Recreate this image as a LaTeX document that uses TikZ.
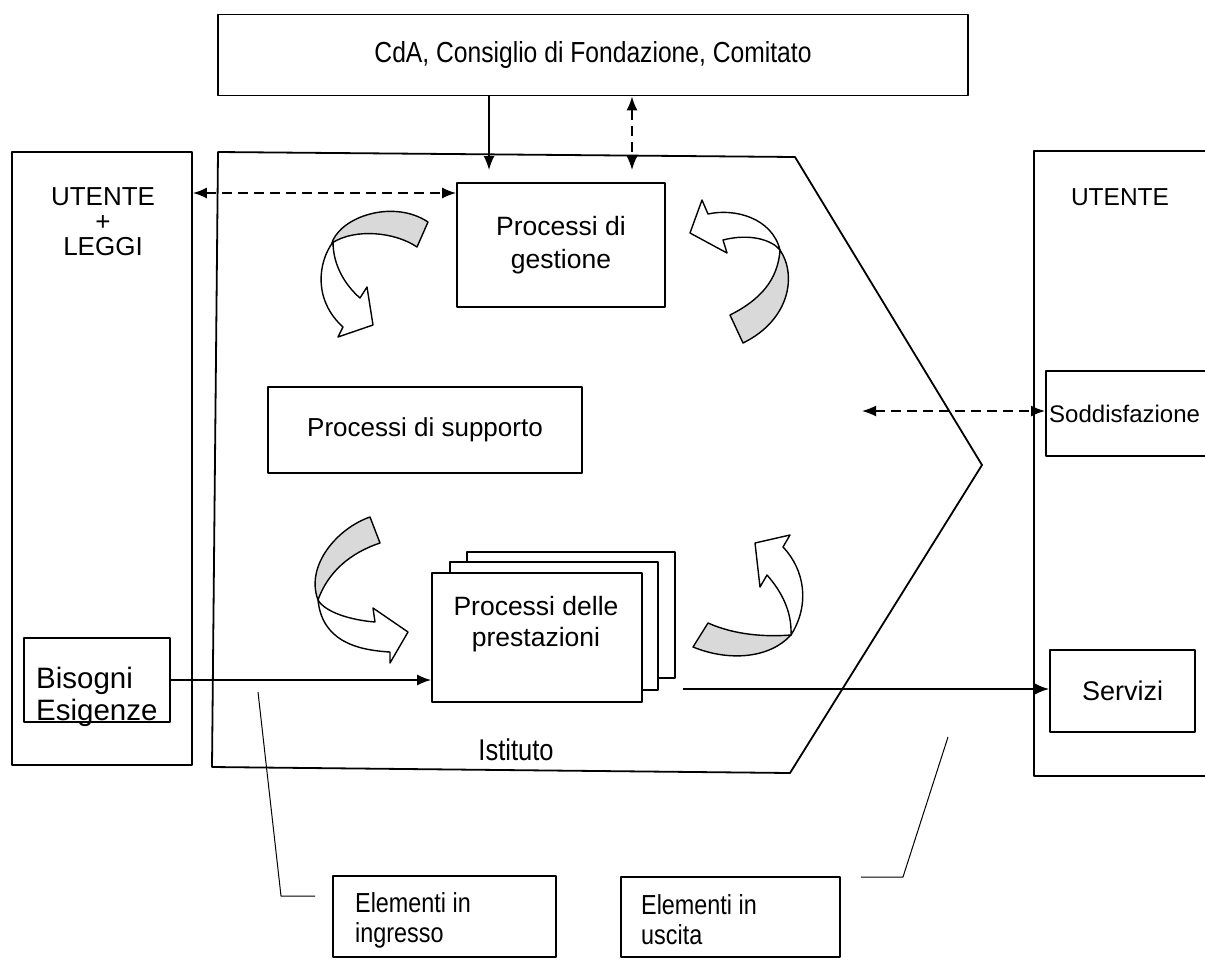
\documentclass[tikz,border=0pt]{standalone}
\usepackage{fontspec}
\setmainfont{Liberation Sans}
\newfontfamily\narrowsans{Liberation Sans}[FakeStretch=0.85]
\usetikzlibrary{arrows.meta}
\begin{document}
\begin{tikzpicture}[x=1pt,y=-1pt, line join=round,
  box/.style={draw, line width=1.8pt, inner sep=0pt},
  txt/.style={font=\fontsize{24}{31}\selectfont, inner sep=0pt, align=center},
  fs/.style={font=\fontsize{#1}{32}\selectfont},
  conn/.style={line width=1.6pt, -{Latex[length=14pt,width=11pt]}},
  dconn/.style={line width=1.6pt, {Latex[length=14pt,width=11pt]}-{Latex[length=14pt,width=11pt]}, dash pattern=on 10pt off 6pt},
  leader/.style={line width=1pt},
  backface/.style={draw, line width=1.4pt, fill=gray!30},
  frontface/.style={draw, line width=1.4pt, fill=white}]
\useasboundingbox (0,0) rectangle (1205,959);
\fill[white] (0,0) rectangle (1205,959);

% top board
\node[box, minimum width=750pt, minimum height=81pt, txt, font=\narrowsans\fontsize{29}{32}\selectfont] (cda) at (593,55) {CdA, Consiglio di Fondazione, Comitato};

% left user box
\node[box, minimum width=180pt, minimum height=613pt] (lb) at (102,458.5) {};
\node[txt, font=\fontsize{26}{25}\selectfont] (lbt) at (103,222) {UTENTE\\+\\LEGGI};
\node[box, minimum width=146pt, minimum height=84pt] (bis) at (97,680) {};
\node[txt, align=left, anchor=west, fs=29.5] (bist) at (36,697) {Bisogni\\Esigenze};

% institute pentagon
\coordinate (p1) at (218,152);
\coordinate (p2) at (795,157);
\coordinate (p3) at (982,465);
\coordinate (p4) at (790,773);
\coordinate (p5) at (212,767);
\draw[line width=1.8pt] (p1) -- (p2) -- (p3) -- (p4) -- (p5) -- cycle;
\node[txt, font=\narrowsans\fontsize{30}{32}\selectfont] (ist) at (516,750) {Istituto};

% processes
\node[box, minimum width=208pt, minimum height=124pt, txt, font=\fontsize{26.5}{33}\selectfont] (gest) at (561,245) {Processi di\\gestione};
\node[box, minimum width=314pt, minimum height=86pt, txt, fs=26] (supp) at (425,430) {Processi di supporto};
\node[box, fill=white, minimum width=208pt, minimum height=126pt] (pb) at (571,615) {};
\node[box, fill=white, minimum width=208pt, minimum height=128pt] (pm) at (554,626) {};
\node[box, fill=white, minimum width=210pt, minimum height=129pt] (pf) at (537,637.5) {};
\node[txt, font=\fontsize{26.5}{31}\selectfont] (pft) at (536,624) {Processi delle\\prestazioni};

% right user box
\node[box, minimum width=185pt, minimum height=625pt, anchor=north west] (rb) at (1033,150) {};
\node[txt, fs=24.5] (rbt) at (1120,197) {UTENTE};
\node[box, minimum width=175pt, minimum height=85pt, anchor=north west] (sod) at (1045,370) {};
\node[txt, anchor=west] (sodt) at (1049,414) {Soddisfazione};
\node[box, minimum width=145pt, minimum height=82pt, txt, fs=27] (serv) at (1122.5,691) {Servizi};

% bottom callouts
\node[box, minimum width=223pt, minimum height=81pt] (ing) at (444.5,916.5) {};
\node[txt, align=left, anchor=west, font=\narrowsans\fontsize{27.5}{30}\selectfont] (ingt) at (355,920) {Elementi in\\ingresso};
\node[box, minimum width=219pt, minimum height=80pt] (usc) at (730.5,917) {};
\node[txt, align=left, anchor=west, font=\narrowsans\fontsize{27.5}{30}\selectfont] (usct) at (641,920) {Elementi in\\uscita};

% connectors
\coordinate (d1) at (489,170);
\draw[conn] (cda.south -| d1) -- (d1);
\coordinate (d2) at (632,170);
\draw[dconn] (cda.south -| d2) -- (d2);
\coordinate (y3) at (300,193);
\draw[dconn] (lb.east |- y3) -- (gest.west |- y3);
\coordinate (d4) at (862,411);
\draw[dconn] (d4) -- (d4 -| sod.west);
\draw[conn] (bis.east) -- (bis.east -| pf.west);
\coordinate (o1) at (683,689);
\draw[conn] (o1) -- (o1 -| serv.west);

% leaders
\coordinate (l1) at (258,692);
\coordinate (l1b) at (281,896);
\draw[leader] (l1) -- (l1b) -- ([xshift=-17pt]ing.west |- l1b);
\coordinate (l2) at (948,737);
\coordinate (l2b) at (903,877);
\draw[leader] (l2) -- (l2b) -- ([xshift=20pt]usc.east |- l2b);

% curved arrows: top-left
\path[backface] (333,240) .. controls (345,215) and (395,200) .. (428,222) -- (417,247) .. controls (395,232) and (355,228) .. (332,243) -- cycle;
\path[frontface] (333,242) .. controls (318,262) and (313,300) .. (343,327) -- (338,337) -- (373,325) -- (367,287) -- (360,298) .. controls (345,285) and (333,265) .. (333,242) -- cycle;
% top-right
\path[backface] (780,250) .. controls (797,275) and (790,320) .. (743,343) -- (730,315) .. controls (760,300) and (778,280) .. (780,250) -- cycle;
\path[frontface] (780,250) .. controls (772,218) and (735,208) .. (708,214) -- (702,200) -- (690,233) -- (727,253) -- (723,240) .. controls (750,233) and (772,240) .. (780,250) -- cycle;
% bottom-left
\path[backface] (370,517) .. controls (338,528) and (305,565) .. (318,600) .. controls (328,572) and (350,553) .. (380,543) -- cycle;
\path[frontface] (318,600) .. controls (322,640) and (355,650) .. (390,652) -- (390,663) -- (408,632) -- (373,608) -- (375,622) .. controls (350,620) and (325,612) .. (318,600) -- cycle;
% bottom-right
\path[backface] (708,623) -- (693,647) .. controls (730,662) and (770,658) .. (791,635) .. controls (765,637) and (735,635) .. (708,623) -- cycle;
\path[frontface] (791,635) .. controls (810,605) and (805,570) .. (783,547) -- (790,535) -- (755,543) -- (760,587) -- (767,575) .. controls (782,592) and (792,612) .. (791,635) -- cycle;
\end{tikzpicture}
\end{document}
